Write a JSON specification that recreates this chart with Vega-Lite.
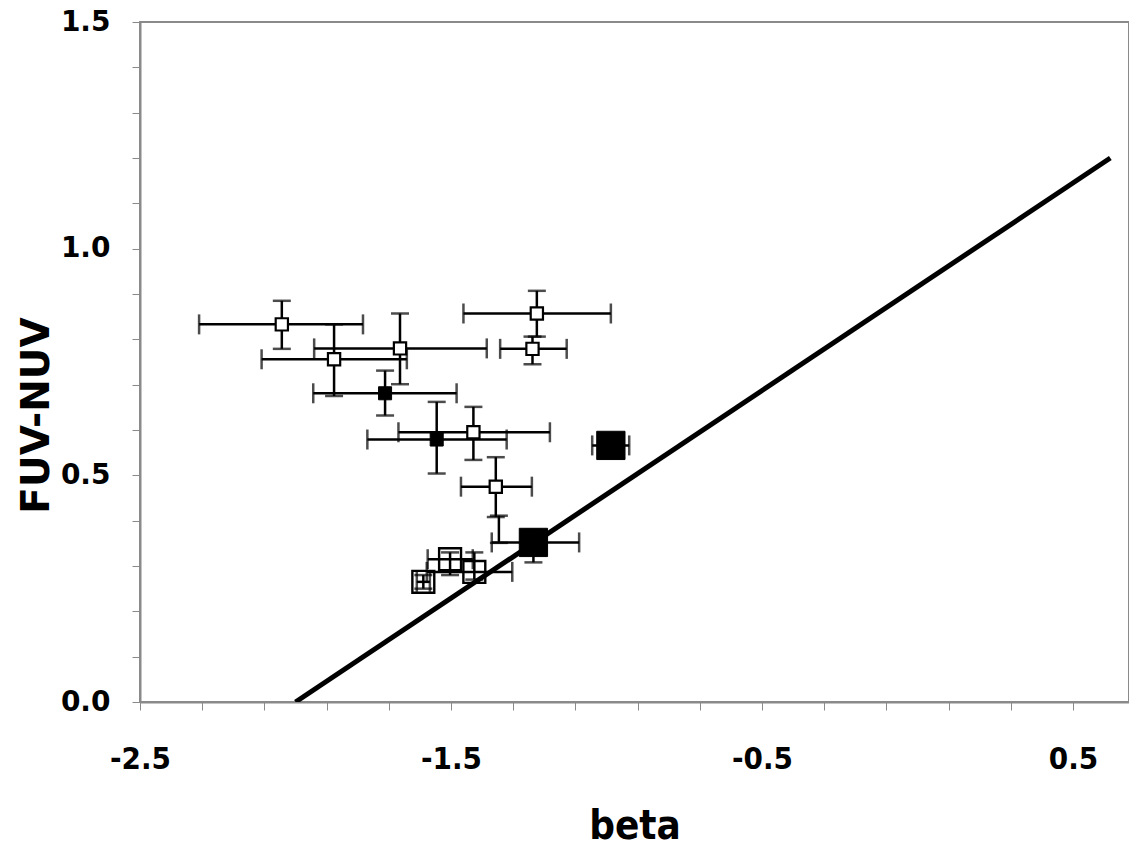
{
  "$schema": "https://vega.github.io/schema/vega-lite/v6.json",
  "width": 989,
  "height": 680,
  "autosize": {"type": "none"},
  "padding": {"left": 140, "top": 22, "right": 0, "bottom": 146},
  "background": "white",
  "config": {
    "view": {"stroke": "#8a8a8a", "strokeWidth": 2},
    "axis": {"grid": false}
  },
  "datasets": {
    "pts": [
      {"id": "A", "kind": "open", "beta": -2.044, "fuv": 0.833, "blo": -2.31, "bhi": -1.783, "flo": 0.779, "fhi": 0.885},
      {"id": "B", "kind": "open", "beta": -1.876, "fuv": 0.756, "blo": -2.109, "bhi": -1.642, "flo": 0.675, "fhi": 0.833},
      {"id": "C", "kind": "open", "beta": -1.664, "fuv": 0.780, "blo": -1.94, "bhi": -1.385, "flo": 0.701, "fhi": 0.857},
      {"id": "D", "kind": "filled", "beta": -1.712, "fuv": 0.681, "blo": -1.943, "bhi": -1.482, "flo": 0.632, "fhi": 0.731},
      {"id": "E", "kind": "filled", "beta": -1.546, "fuv": 0.579, "blo": -1.769, "bhi": -1.321, "flo": 0.504, "fhi": 0.662},
      {"id": "F", "kind": "open", "beta": -1.428, "fuv": 0.595, "blo": -1.669, "bhi": -1.182, "flo": 0.534, "fhi": 0.651},
      {"id": "G", "kind": "open", "beta": -1.356, "fuv": 0.475, "blo": -1.468, "bhi": -1.24, "flo": 0.408, "fhi": 0.540},
      {"id": "H", "kind": "open", "beta": -1.224, "fuv": 0.857, "blo": -1.46, "bhi": -0.986, "flo": 0.806, "fhi": 0.907},
      {"id": "I", "kind": "open", "beta": -1.238, "fuv": 0.779, "blo": -1.342, "bhi": -1.128, "flo": 0.745, "fhi": 0.806},
      {"id": "J", "kind": "filled-big", "beta": -0.986, "fuv": 0.566, "blo": -1.046, "bhi": -0.927, "flo": null, "fhi": null},
      {"id": "K", "kind": "filled-big", "beta": -1.235, "fuv": 0.352, "blo": -1.369, "bhi": -1.088, "flo": 0.308, "fhi": 0.38},
      {"id": "L", "kind": "open-big", "beta": -1.589, "fuv": 0.265, "blo": -1.61, "bhi": -1.568, "flo": 0.25, "fhi": 0.28},
      {"id": "M", "kind": "open-big", "beta": -1.503, "fuv": 0.315, "blo": -1.575, "bhi": -1.43, "flo": 0.28, "fhi": 0.33},
      {"id": "N", "kind": "open-big", "beta": -1.425, "fuv": 0.287, "blo": -1.578, "bhi": -1.303, "flo": 0.27, "fhi": 0.33},
      {"id": "P", "kind": "none", "beta": -1.346, "fuv": 0.351, "blo": null, "bhi": null, "flo": 0.351, "fhi": 0.411}
    ],
    "fit": [
      {"beta": -2.0, "fuv": 0.0},
      {"beta": 0.62, "fuv": 1.2}
    ]
  },
  "data": {"name": "pts"},
  "encoding": {
    "x": {
      "type": "quantitative",
      "scale": {"domain": [-2.5, 0.68], "nice": false, "zero": false},
      "axis": {
        "values": [-2.5, -2.3, -2.1, -1.9, -1.7, -1.5, -1.3, -1.1, -0.9, -0.7, -0.5, -0.3, -0.1, 0.1, 0.3, 0.5],
        "labelExpr": "(datum.value == -2.5 || datum.value == -1.5 || datum.value == -0.5 || datum.value == 0.5) ? ('' + datum.value) : ''",
        "domainColor": "#8a8a8a", "domainWidth": 2,
        "tickColor": "#8a8a8a", "tickSize": 8, "tickWidth": 1,
        "labelFont": "DejaVu Sans Condensed", "labelFontWeight": "bold", "labelFontSize": 31, "labelColor": "black",
        "labelBaseline": "alphabetic", "labelPadding": 58, "labelFlush": false, "labelOverlap": false,
        "title": "beta", "titleFont": "DejaVu Sans Condensed", "titleFontWeight": "bold", "titleFontSize": 40, "titleColor": "black",
        "titleBaseline": "alphabetic", "titleY": 136
      }
    },
    "y": {
      "type": "quantitative",
      "scale": {"domain": [0, 1.5], "nice": false, "zero": false},
      "axis": {
        "values": [0, 0.1, 0.2, 0.3, 0.4, 0.5, 0.6, 0.7, 0.8, 0.9, 1.0, 1.1, 1.2, 1.3, 1.4, 1.5],
        "labelExpr": "(datum.value == 0 || datum.value == 0.5 || datum.value == 1 || datum.value == 1.5) ? format(datum.value, '.1f') : ''",
        "domainColor": "#8a8a8a", "domainWidth": 2,
        "tickColor": "#8a8a8a", "tickSize": 8, "tickWidth": 1,
        "labelFont": "DejaVu Sans", "labelFontWeight": "bold", "labelFontSize": 28, "labelColor": "black",
        "labelPadding": 22, "labelFlush": false, "labelOverlap": false,
        "title": "FUV-NUV", "titleFont": "DejaVu Sans", "titleFontWeight": "bold", "titleFontSize": 39, "titleColor": "black",
        "titleAngle": -90, "titleBaseline": "middle", "titleAlign": "center", "titleX": -104, "titleY": 393
      }
    }
  },
  "layer": [
    {
      "mark": {"type": "rule", "color": "black", "strokeWidth": 2.5},
      "encoding": {"x": {"field": "blo"}, "x2": {"field": "bhi"}, "y": {"field": "fuv"}}
    },
    {
      "mark": {"type": "rule", "color": "black", "strokeWidth": 2.5},
      "encoding": {"x": {"field": "beta"}, "y": {"field": "flo"}, "y2": {"field": "fhi"}}
    },
    {
      "mark": {"type": "tick", "orient": "vertical", "color": "black", "size": 20, "thickness": 2.5},
      "encoding": {"x": {"field": "blo"}, "y": {"field": "fuv"}}
    },
    {
      "mark": {"type": "tick", "orient": "vertical", "color": "black", "size": 20, "thickness": 2.5},
      "encoding": {"x": {"field": "bhi"}, "y": {"field": "fuv"}}
    },
    {
      "mark": {"type": "tick", "orient": "horizontal", "color": "black", "size": 18, "thickness": 2.5},
      "encoding": {"x": {"field": "beta"}, "y": {"field": "flo"}}
    },
    {
      "mark": {"type": "tick", "orient": "horizontal", "color": "black", "size": 18, "thickness": 2.5},
      "encoding": {"x": {"field": "beta"}, "y": {"field": "fhi"}}
    },
    {
      "transform": [{"filter": "datum.kind == 'open'"}],
      "mark": {"type": "point", "shape": "square", "size": 150, "strokeWidth": 2.2, "stroke": "black", "fill": "white", "filled": true, "opacity": 1},
      "encoding": {"x": {"field": "beta"}, "y": {"field": "fuv"}}
    },
    {
      "transform": [{"filter": "datum.kind == 'filled'"}],
      "mark": {"type": "point", "shape": "square", "size": 170, "stroke": "black", "strokeWidth": 1, "fill": "black", "filled": true, "opacity": 1},
      "encoding": {"x": {"field": "beta"}, "y": {"field": "fuv"}}
    },
    {
      "transform": [{"filter": "datum.kind == 'open-big'"}],
      "mark": {"type": "point", "shape": "square", "size": 480, "strokeWidth": 2.4, "stroke": "black", "filled": false, "opacity": 1},
      "encoding": {"x": {"field": "beta"}, "y": {"field": "fuv"}}
    },
    {
      "transform": [{"filter": "datum.kind == 'filled-big'"}],
      "mark": {"type": "point", "shape": "square", "size": 800, "stroke": "black", "strokeWidth": 1, "fill": "black", "filled": true, "opacity": 1},
      "encoding": {"x": {"field": "beta"}, "y": {"field": "fuv"}}
    },
    {
      "data": {"name": "fit"},
      "mark": {"type": "line", "color": "black", "strokeWidth": 5, "clip": true},
      "encoding": {"x": {"field": "beta"}, "y": {"field": "fuv"}}
    }
  ]
}
